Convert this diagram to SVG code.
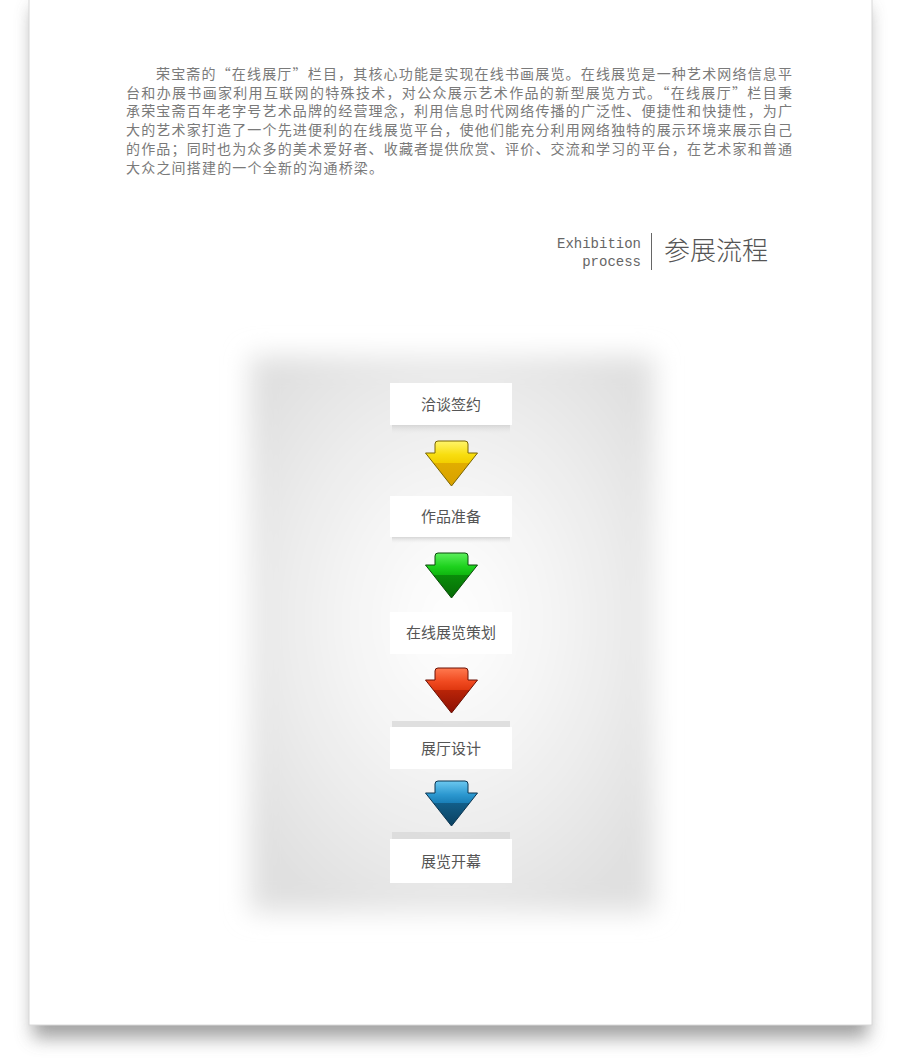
<svg xmlns="http://www.w3.org/2000/svg" width="900" height="1059" viewBox="0 0 900 1059">
<style>
.para{font-family:"Noto Sans CJK SC","Liberation Serif",serif;font-size:14px;fill:#7a7a7a;}
.en{font-family:"Liberation Mono","DejaVu Sans Mono",monospace;font-size:14px;fill:#666;}
.title{font-family:"Noto Sans CJK SC",sans-serif;font-size:26px;fill:#555;font-weight:300;}
.box{fill:#ffffff;}
.lbl{font-family:"Noto Sans CJK SC",sans-serif;font-size:15px;fill:#555;text-anchor:middle;font-weight:normal;}
.ledge{fill:url(#ledgeG);}
.arrow{stroke-width:1;}
</style>
<defs>
<filter id="pageBlur" x="-10%" y="-10%" width="120%" height="120%"><feGaussianBlur stdDeviation="9"/></filter>
<filter id="panelBlur" x="-20%" y="-20%" width="140%" height="140%"><feGaussianBlur stdDeviation="13"/></filter>
<radialGradient id="panelG" cx="451" cy="620" r="330" gradientUnits="userSpaceOnUse" gradientTransform="translate(451 620) scale(0.75 1) translate(-451 -620)">
<stop offset="0" stop-color="#ffffff"/>
<stop offset="0.5" stop-color="#f2f2f2"/>
<stop offset="1" stop-color="#e0e0e0"/>
</radialGradient>
<linearGradient id="ledgeG" x1="0" y1="0" x2="0" y2="1">
<stop offset="0" stop-color="#d6d6d6"/>
<stop offset="1" stop-color="#e8e8e8" stop-opacity="0"/>
</linearGradient>
<linearGradient id="yel" x1="0" y1="0" x2="0" y2="1">
<stop offset="0" stop-color="#fff56a"/>
<stop offset="0.3" stop-color="#f8de10"/>
<stop offset="0.48" stop-color="#f2cf00"/>
<stop offset="0.5" stop-color="#e1ad00"/>
<stop offset="1" stop-color="#d8a000"/>
</linearGradient>
<linearGradient id="grn" x1="0" y1="0" x2="0" y2="1">
<stop offset="0" stop-color="#5cf05c"/>
<stop offset="0.3" stop-color="#1ed21e"/>
<stop offset="0.48" stop-color="#10b810"/>
<stop offset="0.5" stop-color="#0a8c0a"/>
<stop offset="1" stop-color="#066a06"/>
</linearGradient>
<linearGradient id="red" x1="0" y1="0" x2="0" y2="1">
<stop offset="0" stop-color="#ff7a50"/>
<stop offset="0.3" stop-color="#f04a20"/>
<stop offset="0.48" stop-color="#e03810"/>
<stop offset="0.5" stop-color="#b82408"/>
<stop offset="1" stop-color="#8c1004"/>
</linearGradient>
<linearGradient id="blu" x1="0" y1="0" x2="0" y2="1">
<stop offset="0" stop-color="#6cc8f0"/>
<stop offset="0.3" stop-color="#2c98d0"/>
<stop offset="0.48" stop-color="#1a80b8"/>
<stop offset="0.5" stop-color="#125e88"/>
<stop offset="1" stop-color="#0a4060"/>
</linearGradient>
<path id="arrowShape" d="M-16.5,3 Q-16.5,0 -13.5,0 L13.5,0 Q16.5,0 16.5,3 L16.5,12 L26,12 L0,45 L-26,12 L-16.5,12 Z"/>
</defs>

<!-- page -->
<rect x="33" y="8" width="835" height="1030" fill="#8a8a8a" opacity="0.8" filter="url(#pageBlur)"/>
<rect x="29" y="-2" width="843" height="1027" fill="#ffffff" stroke="#d8d8d8" stroke-width="1"/>

<!-- intro paragraph -->
<g id="intro">
<text class="para" x="156" y="79" textLength="636" lengthAdjust="spacing">荣宝斋的“在线展厅”栏目，其核心功能是实现在线书画展览。在线展览是一种艺术网络信息平</text>
<text class="para" x="126" y="97.7" textLength="666" lengthAdjust="spacing">台和办展书画家利用互联网的特殊技术，对公众展示艺术作品的新型展览方式。“在线展厅”栏目秉</text>
<text class="para" x="126" y="116.4" textLength="666" lengthAdjust="spacing">承荣宝斋百年老字号艺术品牌的经营理念，利用信息时代网络传播的广泛性、便捷性和快捷性，为广</text>
<text class="para" x="126" y="135.1" textLength="666" lengthAdjust="spacing">大的艺术家打造了一个先进便利的在线展览平台，使他们能充分利用网络独特的展示环境来展示自己</text>
<text class="para" x="126" y="153.8" textLength="666" lengthAdjust="spacing">的作品；同时也为众多的美术爱好者、收藏者提供欣赏、评价、交流和学习的平台，在艺术家和普通</text>
<text class="para" x="126" y="172.5" textLength="257" lengthAdjust="spacing">大众之间搭建的一个全新的沟通桥梁。</text>
</g>

<!-- heading -->
<g id="heading">
<text class="en" x="641" y="248" text-anchor="end">Exhibition</text>
<text class="en" x="641" y="266" text-anchor="end">process</text>
<line x1="651.5" y1="233" x2="651.5" y2="270" stroke="#666" stroke-width="1"/>
<text class="title" x="664" y="260" textLength="104" lengthAdjust="spacing">参展流程</text>
</g>

<!-- panel -->
<rect x="250" y="356" width="404" height="556" fill="url(#panelG)" filter="url(#panelBlur)"/>

<!-- connectors -->
<g id="connectors">
<use href="#arrowShape" transform="translate(451.5 441)" fill="url(#yel)" stroke="#7a6400" class="arrow"/>
<use href="#arrowShape" transform="translate(451.5 553)" fill="url(#grn)" stroke="#0a4a0a" class="arrow"/>
<use href="#arrowShape" transform="translate(451.5 668)" fill="url(#red)" stroke="#6a1004" class="arrow"/>
<use href="#arrowShape" transform="translate(451.5 781)" fill="url(#blu)" stroke="#0a3450" class="arrow"/>
</g>

<!-- nodes -->
<g id="node1">
<rect class="ledge" x="392" y="425" width="118" height="9"/>
<rect class="box" x="390" y="383" width="122" height="42"/>
<text class="lbl" x="451" y="410">洽谈签约</text>
</g>
<g id="node2">
<rect class="ledge" x="392" y="537" width="118" height="6"/>
<rect class="box" x="390" y="496" width="122" height="41"/>
<text class="lbl" x="451" y="522">作品准备</text>
</g>
<g id="node3">
<rect class="box" x="390" y="612" width="122" height="42"/>
<text class="lbl" x="451" y="638">在线展览策划</text>
</g>
<g id="node4">
<rect x="392" y="721" width="118" height="6" fill="#d9d9d9" opacity="0.8"/>
<rect class="box" x="390" y="727" width="122" height="42"/>
<text class="lbl" x="451" y="754">展厅设计</text>
</g>
<g id="node5">
<rect x="392" y="832" width="118" height="7" fill="#d9d9d9" opacity="0.8"/>
<rect class="box" x="390" y="839" width="122" height="44"/>
<text class="lbl" x="451" y="867">展览开幕</text>
</g>
</svg>
